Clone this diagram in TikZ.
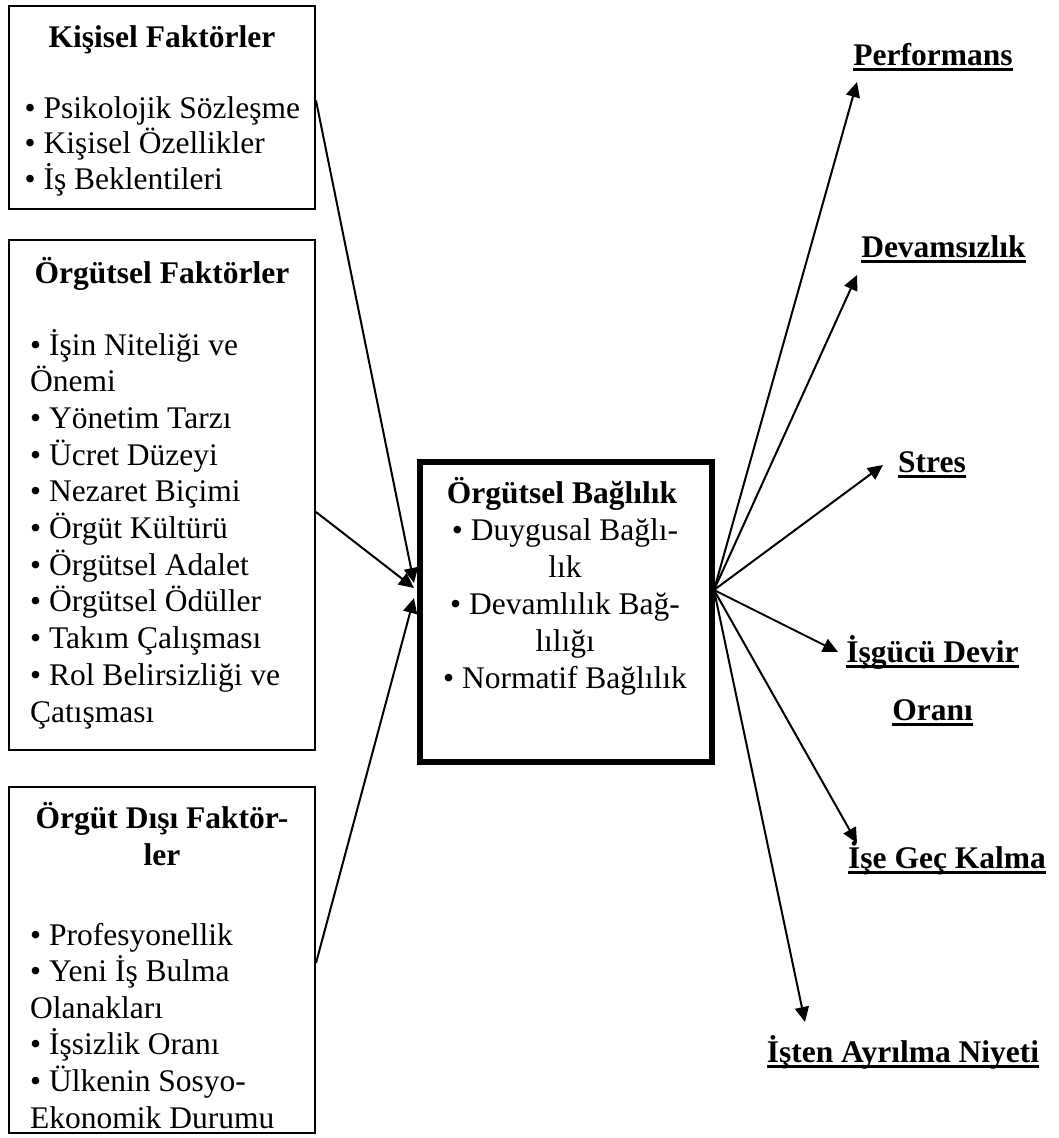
\documentclass[tikz,border=0pt]{standalone}
\usepackage{fontspec}
\setmainfont{Liberation Serif}
\usetikzlibrary{arrows.meta,calc}
\begin{document}
\begin{tikzpicture}[x=1pt,y=-1pt,
  fbox/.style={draw, line width=2pt, inner sep=0pt},
  cbox/.style={draw, line width=5.5pt, inner sep=0pt},
  txt/.style={inner sep=0pt, anchor=base west, font=\fontsize{31.5}{36}\selectfont},
  ctxt/.style={inner sep=0pt, anchor=base, font=\fontsize{31.5}{36}\selectfont},
  head/.style={inner sep=0pt, anchor=base, font=\fontsize{31.5}{36}\selectfont\bfseries},
  lbl/.style={inner sep=0pt, anchor=base, font=\fontsize{31.5}{36}\selectfont\bfseries},
  ul/.style={line width=3pt},
  arr/.style={line width=2pt, -{Triangle[length=15pt,width=14pt]}}
]
\useasboundingbox (0,0) rectangle (1058,1138);

% left boxes
\node[fbox, minimum width=306pt, minimum height=203pt] (kbox) at (162,107.5) {};
\node[fbox, minimum width=306pt, minimum height=510pt] (obox) at (162,495) {};
\node[fbox, minimum width=306pt, minimum height=346pt] (dbox) at (162,960) {};

\node[head] (kh) at (162,47) {Kişisel Faktörler};
\foreach \t [count=\i] in {• Psikolojik Sözleşme, • Kişisel Özellikler, • İş Beklentileri}
  \node[txt] (k\i) at (24.5,{118+(\i-1)*35.5}) {\t};

\node[head] (oh) at (162,283) {Örgütsel Faktörler};
\foreach \t [count=\i] in {• İşin Niteliği ve, Önemi, • Yönetim Tarzı, • Ücret Düzeyi, • Nezaret Biçimi, • Örgüt Kültürü, • Örgütsel Adalet, • Örgütsel Ödüller, • Takım Çalışması, • Rol Belirsizliği ve, Çatışması}
  \node[txt] (o\i) at (30,{355+(\i-1)*36.7}) {\t};

\node[head] (dh1) at (162,828) {Örgüt Dışı Faktör-};
\node[head] (dh2) at (162,865) {ler};
\foreach \t [count=\i] in {• Profesyonellik, • Yeni İş Bulma, Olanakları, • İşsizlik Oranı, • Ülkenin Sosyo-, Ekonomik Durumu}
  \node[txt] (d\i) at (30,{945+(\i-1)*36.6}) {\t};

% central box
\node[cbox, minimum width=292pt, minimum height=300pt] (cb) at (566,612) {};
\node[head] (ch) at (562,503) {Örgütsel Bağlılık};
\foreach \t [count=\i] in {• Duygusal Bağlı-, lık, • Devamlılık Bağ-, lılığı, • Normatif Bağlılık}
  \node[ctxt] (c\i) at (565,{540+(\i-1)*37}) {\t};

% right labels
\node[lbl] (perf) at (933,65) {Performans};
\node[lbl] (dev) at (943.5,257) {Devamsızlık};
\node[lbl] (str) at (932,472) {Stres};
\node[lbl] (isg1) at (932.5,662) {İşgücü Devir};
\node[lbl] (isg2) at (932.5,720) {Oranı};
\node[lbl] (gec) at (947,868) {İşe Geç Kalma};
\node[lbl] (ayr) at (903,1062) {İşten Ayrılma Niyeti};
\foreach \n in {perf,dev,str,isg1,isg2,gec,ayr}
  \draw[ul] ([yshift=-4.5pt]\n.base west) -- ([yshift=-4.5pt]\n.base east);

% connector points
\coordinate (out) at (714,590);
\coordinate (in1) at (414,583);
\coordinate (in2) at (414,588);
\coordinate (in3) at (414,598);
\coordinate (tperf) at (857,82);
\coordinate (tdev) at (857,275);
\coordinate (tstr) at (883,465);
\coordinate (tisg) at (838,652);
\coordinate (tgec) at (857,843);
\coordinate (tayr) at (805,1022);

% incoming arrows
\draw[arr] ([yshift=7pt]kbox.east) -- (in1);
\draw[arr] ([yshift=-17pt]obox.east) -- (in2);
\draw[arr] ([yshift=-3pt]dbox.east) -- (in3);

% outgoing arrows
\foreach \t in {tperf,tdev,tstr,tisg,tgec,tayr}
  \draw[arr] (out) -- (\t);
\end{tikzpicture}
\end{document}
